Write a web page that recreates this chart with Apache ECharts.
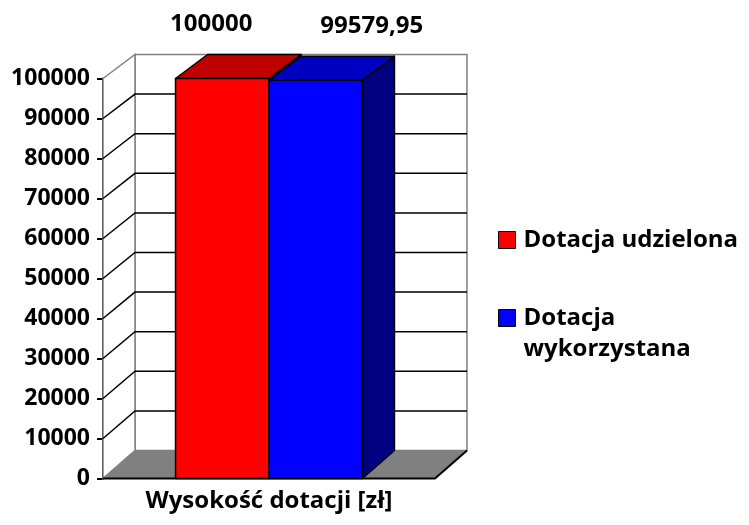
<!DOCTYPE html>
<html>
<head>
<meta charset="utf-8">
<script src="https://cdn.jsdelivr.net/npm/echarts@6/dist/echarts.min.js"></script>
<style>
  html, body { margin: 0; padding: 0; background: #fff; }
  #chart { width: 749px; height: 525px; }
</style>
</head>
<body>
<div id="chart"></div>
<script>
// dane wykresu
const categories = ['Wysokość dotacji [zł]']
const seriesNames = ['Dotacja udzielona', 'Dotacja wykorzystana']
const grantedValues = [100000]
const usedValues = [99579.95]
const yTicks = [0, 10000, 20000, 30000, 40000, 50000, 60000, 70000, 80000, 90000, 100000]

const FONT = '"Open Sans", sans-serif'
// glebokosc "3D" (przesuniecie tylnej sciany)
const DX = 32
const DY_TOP = 24
const DY_BOTTOM = 28
const BAR_RATIO = 0.2815
const LABEL_SHIFT = [-11, 56]
const faceColors = [
  { front: '#FF0000', top: '#C00000', side: '#800000' },
  { front: '#0000FF', top: '#0000C0', side: '#000080' }
]

// rzut punktu z przedniej plaszczyzny na tylna
const back = (x, y, cs) => {
  const t = (y - cs.y) / cs.height
  return [x + DX, y - (DY_TOP + (DY_BOTTOM - DY_TOP) * t)]
}

const fmt = (v) => Number.isInteger(v) ? String(v) : v.toFixed(2).replace('.', ',')

// sciany, podloga i linie siatki
const renderWalls = (params, api) => {
  const cs = params.coordSys
  const v = api.value(1)
  const y = api.coord([0, v])[1]
  const left = cs.x
  const right = cs.x + cs.width
  const y0 = api.coord([0, 0])[1]
  const yMax = api.coord([0, yTicks[yTicks.length - 1]])[1]
  const children = []
  if (v === 0) {
    const bl0 = back(left, y0, cs)
    const br0 = back(right, y0, cs)
    const blT = back(left, yMax, cs)
    const brT = back(right, yMax, cs)
    // tylna sciana
    children.push({
      type: 'polygon',
      shape: { points: [blT, brT, br0, bl0] },
      style: { fill: '#fff', stroke: '#808080', lineWidth: 1.5 }
    })
    // lewa sciana
    children.push({
      type: 'polygon',
      shape: { points: [[left, yMax], blT, bl0, [left, y0]] },
      style: { fill: '#fff', stroke: '#808080', lineWidth: 1.5 }
    })
    // podloga
    children.push({
      type: 'polygon',
      shape: { points: [[left, y0], [right, y0], br0, bl0] },
      style: { fill: '#808080', stroke: '#808080', lineWidth: 1 }
    })
    children.push({
      type: 'polyline',
      shape: { points: [[left, y0], [right, y0], br0] },
      style: { fill: null, stroke: '#000', lineWidth: 2 }
    })
  } else if (v < yTicks[yTicks.length - 1]) {
    const b = back(left, y, cs)
    const br = back(right, y, cs)
    children.push({
      type: 'polyline',
      shape: { points: [[left, y], b, br] },
      style: { fill: null, stroke: '#000', lineWidth: 1.5 }
    })
  }
  return { type: 'group', children: children }
}

// slupek 3D
const makeBarRender = (idx) => (params, api) => {
  const cs = params.coordSys
  const v = api.value(1)
  const c = api.coord([api.value(0), v])
  const y0 = api.coord([api.value(0), 0])[1]
  const bw = api.size([1, 0])[0] * BAR_RATIO
  const x1 = c[0] + (idx - 1) * bw
  const x2 = x1 + bw
  const yv = c[1]
  const col = faceColors[idx]
  const line = { stroke: '#000', lineWidth: 1.5, lineJoin: 'round' }
  return {
    type: 'group',
    children: [
      {
        type: 'polygon',
        shape: { points: [[x2, yv], back(x2, yv, cs), back(x2, y0, cs), [x2, y0]] },
        style: Object.assign({ fill: col.side }, line)
      },
      {
        type: 'polygon',
        shape: { points: [[x1, yv], [x2, yv], back(x2, yv, cs), back(x1, yv, cs)] },
        style: Object.assign({ fill: col.top }, line)
      },
      {
        type: 'rect',
        shape: { x: x1, y: yv, width: bw, height: y0 - yv },
        style: Object.assign({ fill: col.front }, line)
      },
      {
        type: 'text',
        style: {
          text: fmt(v),
          x: (x1 + x2) / 2 + LABEL_SHIFT[idx],
          y: yv - 54,
          align: 'center',
          verticalAlign: 'middle',
          textAlign: 'center',
          textVerticalAlign: 'middle',
          font: 'bold 24px ' + FONT,
          fill: '#000'
        }
      }
    ]
  }
}

const legendText = { color: '#000', fontFamily: FONT, fontWeight: 'bold', fontSize: 24, lineHeight: 31, padding: [0, 0, 0, 3] }

const chart = echarts.init(document.getElementById('chart'), null, { renderer: 'canvas' })
const option = {
  animation: false,
  backgroundColor: '#fff',
  grid: { left: 103, right: 314, top: 78.5, bottom: 46.5, containLabel: false, outerBoundsMode: 'none' },
  xAxis: {
    type: 'category',
    data: categories,
    axisLine: { show: false },
    axisTick: { show: false },
    axisLabel: {
      margin: 9,
      color: '#000',
      fontFamily: FONT,
      fontWeight: 'bold',
      fontSize: 24,
      lineHeight: 28
    }
  },
  yAxis: {
    type: 'value',
    min: 0,
    max: 100000,
    interval: 10000,
    axisLine: { show: true, lineStyle: { color: '#000', width: 2 } },
    axisTick: { show: true, length: 6, lineStyle: { color: '#000', width: 2 } },
    splitLine: { show: false },
    axisLabel: {
      margin: 13,
      color: '#000',
      fontFamily: FONT,
      fontWeight: 'bold',
      fontSize: 23,
      formatter: (v) => String(v)
    }
  },
  legend: [
    {
      left: 498,
      top: 224.5,
      padding: 0,
      orient: 'vertical',
      icon: 'rect',
      itemWidth: 17,
      itemHeight: 17,
      itemStyle: { borderColor: '#000', borderWidth: 1 },
      textStyle: legendText,
      data: [seriesNames[0]]
    },
    {
      left: 498,
      top: 271.5,
      padding: 0,
      orient: 'vertical',
      icon: 'rect',
      itemWidth: 17,
      itemHeight: 17,
      itemStyle: { borderColor: '#000', borderWidth: 1 },
      // pusta linia na poczatku, zeby ikona byla przy pierwszej linii
      formatter: (name) => '\n' + name.replace(' ', '\n'),
      textStyle: legendText,
      data: [seriesNames[1]]
    }
  ],
  series: [
    {
      type: 'custom',
      name: 'walls',
      silent: true,
      renderItem: renderWalls,
      data: yTicks.map(t => [0, t]),
      z: 1
    },
    {
      type: 'custom',
      name: seriesNames[0],
      renderItem: makeBarRender(0),
      itemStyle: { color: faceColors[0].front },
      data: grantedValues.map((v, i) => [i, v]),
      z: 2
    },
    {
      type: 'custom',
      name: seriesNames[1],
      renderItem: makeBarRender(1),
      itemStyle: { color: faceColors[1].front },
      data: usedValues.map((v, i) => [i, v]),
      z: 2
    }
  ]
}
chart.setOption(option)
</script>
</body>
</html>
